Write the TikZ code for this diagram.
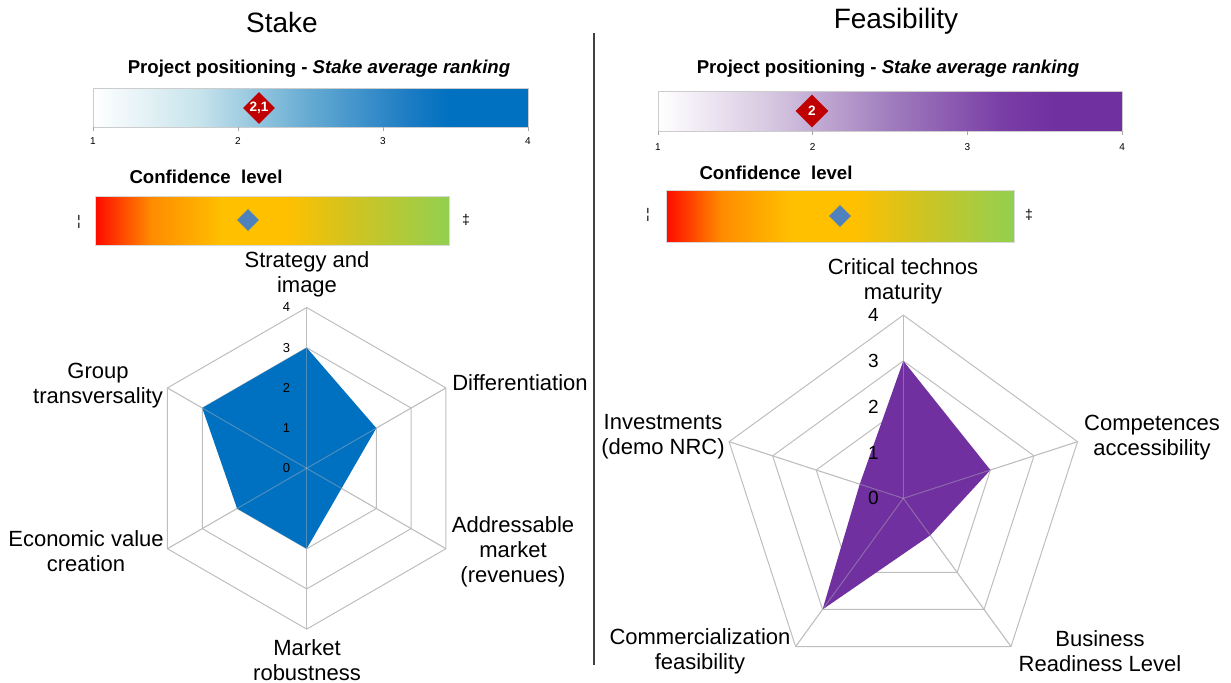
\documentclass[tikz,border=0pt]{standalone}
\usepackage{fontspec}
\setmainfont{Liberation Sans}
\usetikzlibrary{shapes.geometric}
\definecolor{stakeblue}{RGB}{0,112,192}
\definecolor{stakelight}{RGB}{200,228,236}
\definecolor{stakemid}{RGB}{100,170,210}
\definecolor{stakedeep}{RGB}{30,125,196}
\definecolor{feaspurple}{RGB}{112,48,160}
\definecolor{feaslight}{RGB}{215,200,225}
\definecolor{feasmid}{RGB}{160,125,190}
\definecolor{feasdeep}{RGB}{122,62,166}
\definecolor{confred}{RGB}{255,10,0}
\definecolor{conforange}{RGB}{255,140,0}
\definecolor{confyellow}{RGB}{255,192,0}
\definecolor{confolive}{RGB}{205,196,35}
\definecolor{confgreen}{RGB}{146,208,80}
\definecolor{markred}{RGB}{192,0,0}
\definecolor{markblue}{RGB}{79,129,189}
\definecolor{gridgray}{RGB}{190,190,190}
\pgfdeclarehorizontalshading{stakebar}{100bp}{color(0bp)=(white); color(25bp)=(white); color(37bp)=(stakelight); color(50bp)=(stakemid); color(61bp)=(stakedeep); color(66bp)=(stakeblue); color(100bp)=(stakeblue)}
\pgfdeclarehorizontalshading{feasbar}{100bp}{color(0bp)=(white); color(25bp)=(white); color(37bp)=(feaslight); color(50bp)=(feasmid); color(62bp)=(feasdeep); color(68bp)=(feaspurple); color(100bp)=(feaspurple)}
\pgfdeclarehorizontalshading{confbar}{100bp}{color(0bp)=(confred); color(25bp)=(confred); color(33bp)=(conforange); color(43bp)=(confyellow); color(52bp)=(confyellow); color(62bp)=(confolive); color(75bp)=(confgreen); color(100bp)=(confgreen)}
\begin{document}
\begin{tikzpicture}[x=0.5pt,y=-0.5pt,font=\fontsize{11}{12.5}\selectfont,
	bartitle/.style={font=\fontsize{9.3}{11}\selectfont\bfseries,inner sep=0pt},
	ticklabel/.style={font=\fontsize{5}{6}\selectfont,inner sep=0pt},
	reddiamond/.style={diamond,fill=markred,text=white,inner sep=0pt,minimum size=16pt,font=\fontsize{6.8}{7}\selectfont\bfseries},
	bluediamond/.style={diamond,fill=markblue,inner sep=0pt,minimum size=11pt},
	endmark/.style={font=\fontsize{7}{8}\selectfont,inner sep=0pt},
	gridline/.style={draw=gridgray,line width=0.5pt},
	axislabel/.style={align=center,inner sep=0pt}]
	\useasboundingbox (0,0) rectangle (1231,682);
	\node (staketitle) at (282,22) {\fontsize{14}{16}\selectfont Stake};
	\node (feastitle) at (896,21) {\fontsize{14}{16}\selectfont Feasibility};
	\draw[line width=0.8pt,black!75] (594,33) -- (594,665);

	\node[bartitle] (stakepos) at (319,69) {Project positioning - \textit{Stake average ranking}};
	\fill[shading=stakebar] (93,88) rectangle (528,127);
	\draw[black!20] (93,88) rectangle (528,127);
	\foreach \t in {1,...,4} {
		\draw[black!35] ({93+(\t-1)*145},127) -- ++(0,4);
		\node[ticklabel] (staketick\t) at ({93+(\t-1)*145},141) {\t};
	}
	\node[reddiamond] (stakemark) at (259,108) {2,1};
	\node[bartitle] (stakeconf) at (206,177) {Confidence\ \ level};
	\fill[shading=confbar] (95,196) rectangle (449,245);
	\draw[black!15] (95,196) rectangle (449,245);
	\node[bluediamond] (stakeconfmark) at (248,220) {};
	\node[endmark] (stakelow) at (79,222) {¦};
	\node[endmark] (stakehigh) at (466,220) {‡};

	\node[bartitle] (feaspos) at (888,69) {Project positioning - \textit{Stake average ranking}};
	\fill[shading=feasbar] (658,91) rectangle (1122,131);
	\draw[black!20] (658,91) rectangle (1122,131);
	\foreach \t in {1,...,4} {
		\draw[black!35] ({658+(\t-1)*154.7},131) -- ++(0,4);
		\node[ticklabel] (feastick\t) at ({658+(\t-1)*154.7},147) {\t};
	}
	\node[reddiamond,minimum size=16.5pt] (feasmark) at (812,111) {2};
	\node[bartitle] (feasconf) at (776,173) {Confidence\ \ level};
	\fill[shading=confbar] (666,190) rectangle (1014,242);
	\draw[black!15] (666,190) rectangle (1014,242);
	\node[bluediamond] (feasconfmark) at (840,216) {};
	\node[endmark] (feaslow) at (648,215) {¦};
	\node[endmark] (feashigh) at (1029,215) {‡};

	\begin{scope}[shift={(306.7,468.3)},x=20.1pt,y=20.1pt]
		\foreach \r in {1,...,4}
			\draw[gridline] (90:\r) -- (30:\r) -- (-30:\r) -- (-90:\r) -- (-150:\r) -- (150:\r) -- cycle;
		\foreach \a in {90,30,...,-210}
			\draw[gridline] (0,0) -- (\a:4);
		\fill[stakeblue] (90:3) -- (30:2) -- (-30:1) -- (-90:2) -- (-150:2) -- (150:3) -- cycle;
		\foreach \a in {90,30,...,-210}
			\draw[gridline,draw opacity=0.4] (0,0) -- (\a:4);
		\foreach \r in {0,...,4}
			\node[font=\fontsize{6.5}{7}\selectfont,inner sep=0pt] (stakeval\r) at (-0.5,\r) {\r};
	\end{scope}
	\node[axislabel] (strategy) at (307,274) {Strategy and\\image};
	\node[axislabel] (differentiation) at (520,383) {Differentiation};
	\node[axislabel] (addressable) at (513,552) {Addressable\\market\\(revenues)};
	\node[axislabel] (robustness) at (307,660) {Market\\robustness};
	\node[axislabel] (economic) at (86,551) {Economic value\\creation};
	\node[axislabel] (transversality) at (98,386) {Group\\transversality};

	\begin{scope}[shift={(903.3,498.3)},x=22.9pt,y=22.9pt]
		\foreach \r in {1,...,4}
			\draw[gridline] (90:\r) -- (18:\r) -- (-54:\r) -- (-126:\r) -- (162:\r) -- cycle;
		\foreach \a in {90,18,-54,-126,162}
			\draw[gridline] (0,0) -- (\a:4);
		\fill[feaspurple] (90:3) -- (18:2) -- (-54:1) -- (-126:3) -- (162:1) -- cycle;
		\foreach \a in {90,18,-54,-126,162}
			\draw[gridline,draw opacity=0.4] (0,0) -- (\a:4);
		\foreach \r in {0,...,4}
			\node[font=\fontsize{9.5}{10}\selectfont,inner sep=0pt] (feasval\r) at (-0.655,\r) {\r};
	\end{scope}
	\node[axislabel] (technos) at (903,281) {Critical technos\\maturity};
	\node[axislabel] (competences) at (1152,438) {Competences\\accessibility};
	\node[axislabel] (business) at (1100,651) {Business\\Readiness Level};
	\node[axislabel] (commercial) at (700,651) {Commercialization\\feasibility};
	\node[axislabel] (investments) at (663,437) {Investments\\(demo NRC)};
\end{tikzpicture}
\end{document}
